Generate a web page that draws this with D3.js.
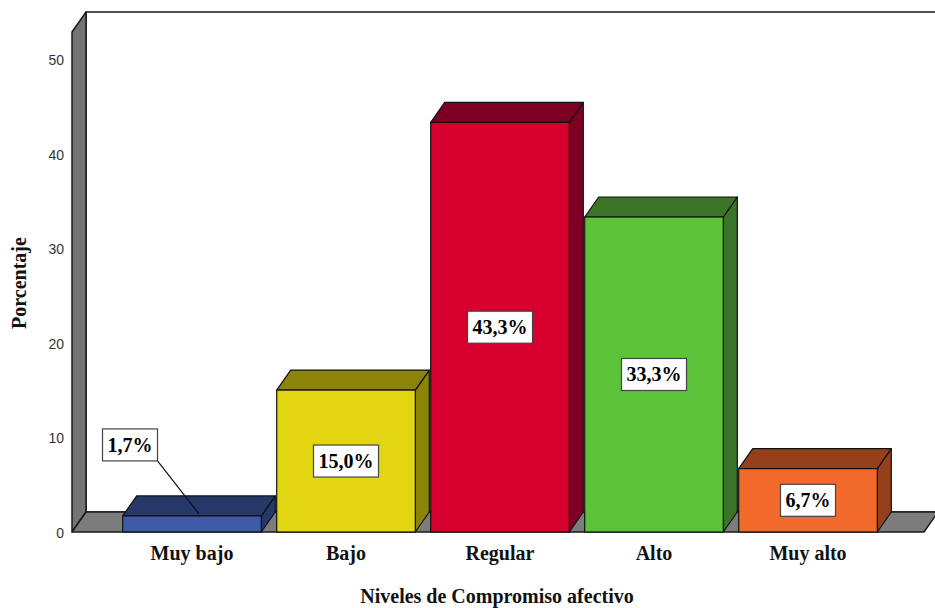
<!DOCTYPE html>
<html><head><meta charset="utf-8">
<script src="https://cdn.jsdelivr.net/npm/d3@7"></script>
<style>body{margin:0;background:#fff}svg{display:block}</style>
</head><body>
<script>
// Percentage distribution by level
const categories = ["Muy bajo", "Bajo", "Regular", "Alto", "Muy alto"];
const percentages = [1.7, 15.0, 43.3, 33.3, 6.7];
const yTicks = [0, 10, 20, 30, 40, 50];
const frontColors = ["#3f5aa9", "#e2d511", "#d8002f", "#5cc23a", "#f26a2b"];
const shadeColors = ["#26386a", "#8c8309", "#7d0022", "#3c7427", "#96401b"];
const xTitle = "Niveles de Compromiso afectivo";
const yTitle = "Porcentaje";

const W = 935, H = 608;
const DX = 14, DY = 20;                 // 3D depth offset
const wallX = 72, floorY = 532, wallTop = 32, floorRight = 924;

const svg = d3.select("body").append("svg").attr("width", W).attr("height", H);

const x = d3.scaleBand().domain(categories).range([115, 885])
  .paddingInner(0.1).paddingOuter(0.05);
const y = d3.scaleLinear().domain([0, 50]).range([floorY, 59]);

const pts = a => a.map(p => p.join(",")).join(" ");

// back wall
svg.append("rect").attr("x", wallX + DX).attr("y", wallTop - DY)
  .attr("width", W).attr("height", floorY - wallTop)
  .attr("fill", "#fff").attr("stroke", "#1a1a1a").attr("stroke-width", 1.5);

// left wall
svg.append("polygon")
  .attr("points", pts([[wallX, floorY], [wallX, wallTop], [wallX + DX, wallTop - DY], [wallX + DX, floorY - DY]]))
  .attr("fill", "#747474").attr("stroke", "#1a1a1a").attr("stroke-width", 1.5).attr("stroke-linejoin", "round");

// floor
svg.append("polygon")
  .attr("points", pts([[wallX, floorY], [wallX + DX, floorY - DY], [floorRight + DX, floorY - DY], [floorRight, floorY]]))
  .attr("fill", "#7c7c7c").attr("stroke", "#1a1a1a").attr("stroke-width", 1.5).attr("stroke-linejoin", "round");

// y tick labels
svg.append("g").selectAll("text").data(yTicks).join("text")
  .attr("x", 64).attr("y", d => y(d) + 1).attr("dy", "0.35em")
  .attr("text-anchor", "end")
  .attr("font-family", "Liberation Sans, Arial, sans-serif").attr("font-size", 14)
  .attr("fill", "#333").text(d => d);

// bars
const bars = svg.append("g").selectAll("g").data(percentages).join("g");
bars.each(function (v, i) {
  const g = d3.select(this);
  const x0 = x(categories[i]), x1 = x0 + x.bandwidth(), yt = y(v);
  g.append("polygon")
    .attr("points", pts([[x1, floorY], [x1, yt], [x1 + DX, yt - DY], [x1 + DX, floorY - DY]]))
    .attr("fill", shadeColors[i]).attr("stroke", "#111").attr("stroke-width", 1.2).attr("stroke-linejoin", "round");
  g.append("polygon")
    .attr("points", pts([[x0, yt], [x0 + DX, yt - DY], [x1 + DX, yt - DY], [x1, yt]]))
    .attr("fill", shadeColors[i]).attr("stroke", "#111").attr("stroke-width", 1.2).attr("stroke-linejoin", "round");
  g.append("rect").attr("x", x0).attr("y", yt).attr("width", x.bandwidth()).attr("height", floorY - yt)
    .attr("fill", frontColors[i]).attr("stroke", "#111").attr("stroke-width", 1.2);
});

// value labels
const fmt = v => v.toFixed(1).replace(".", ",") + "%";
percentages.forEach((v, i) => {
  const xc = x(categories[i]) + x.bandwidth() / 2, yt = y(v);
  const inside = floorY - yt > 40;
  const cx = inside ? xc : xc - 62;
  const cy = inside ? (yt + floorY) / 2 : yt - 71;
  const g = svg.append("g");
  const t = g.append("text").attr("x", cx).attr("y", cy).attr("dy", "0.35em")
    .attr("text-anchor", "middle")
    .attr("font-family", "Liberation Serif, 'Times New Roman', serif")
    .attr("font-weight", "bold").attr("font-size", 20).attr("fill", "#000")
    .text(fmt(v));
  const w = t.node().getComputedTextLength() + 10, h = 32;
  g.insert("rect", "text").attr("x", cx - w / 2).attr("y", cy - h / 2)
    .attr("width", w).attr("height", h)
    .attr("fill", "#fff").attr("stroke", "#444").attr("stroke-width", 1.2);
  if (!inside) {
    g.insert("line", "rect").attr("x1", cx + w / 2).attr("y1", cy + h / 2)
      .attr("x2", xc + 7).attr("y2", yt - 2)
      .attr("stroke", "#111").attr("stroke-width", 1.2);
  }
});

// category labels
svg.append("g").selectAll("text").data(categories).join("text")
  .attr("x", d => x(d) + x.bandwidth() / 2).attr("y", 560)
  .attr("text-anchor", "middle")
  .attr("font-family", "Liberation Serif, 'Times New Roman', serif")
  .attr("font-weight", "bold").attr("font-size", 20).attr("fill", "#111")
  .text(d => d);

// axis titles
svg.append("text").attr("x", 497).attr("y", 603).attr("text-anchor", "middle")
  .attr("font-family", "Liberation Serif, 'Times New Roman', serif")
  .attr("font-weight", "bold").attr("font-size", 20).attr("fill", "#111")
  .text(xTitle);
svg.append("text").attr("transform", "translate(26,283) rotate(-90)").attr("text-anchor", "middle")
  .attr("font-family", "Liberation Serif, 'Times New Roman', serif")
  .attr("font-weight", "bold").attr("font-size", 20).attr("fill", "#111")
  .text(yTitle);
</script>
</body></html>
